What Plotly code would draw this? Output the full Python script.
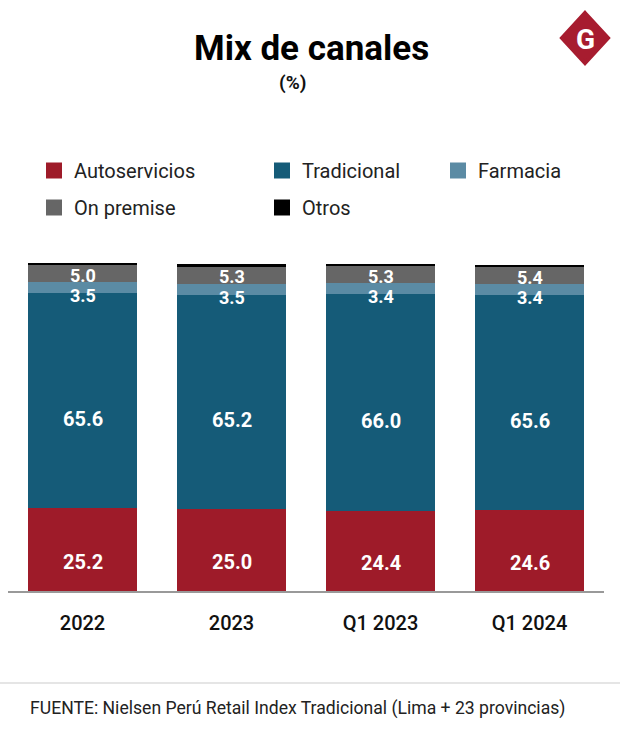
import plotly.graph_objects as go

categories = ["2022", "2023", "Q1 2023", "Q1 2024"]
series_names = ["Autoservicios", "Tradicional", "Farmacia", "On premise", "Otros"]
autoservicios = [25.2, 25.0, 24.4, 24.6]
tradicional = [65.6, 65.2, 66.0, 65.6]
farmacia = [3.5, 3.5, 3.4, 3.4]
on_premise = [5.0, 5.3, 5.3, 5.4]
otros = [0.8, 0.6, 0.4, 0.4]

colors = ["#9e1b29", "#155b78", "#5b8ba4", "#666666", "#000000"]
values = [autoservicios, tradicional, farmacia, on_premise, otros]
legend_of = ["legend", "legend2", "legend3", "legend", "legend2"]

W, H = 620, 740
L, R, T, B = 8, 16, 263, 149
PW = W - L - R
PH = H - T - B

def px(xp):
    return (xp - L) / PW

def py(yp):
    return (H - B - yp) / PH

FONT = "Roboto"

fig = go.Figure()
for name, vals, col in zip(series_names, values, colors):
    fig.add_trace(go.Bar(x=categories, y=vals, name=name, marker=dict(color=col, line=dict(width=0)),
                         showlegend=False, hoverinfo="skip"))

# legend entries
for i, (name, col, lg) in enumerate(zip(series_names, colors, legend_of)):
    fig.add_trace(go.Scatter(x=[None], y=[None], mode="markers", name=name,
                             marker=dict(symbol="square", size=16, color=col),
                             legend=lg, legendgroup=name, showlegend=True))

# value labels
shifts = [-12, -18, -8, -2]
label_sizes = [20, 20, 18, 18]
for c_i, cat in enumerate(categories):
    base = 0
    for s_i in range(4):
        v = values[s_i][c_i]
        mid = base + v / 2
        fig.add_annotation(x=c_i, y=mid, xref="x", yref="y", text=f"<b>{v:.1f}</b>",
                           showarrow=False, yshift=shifts[s_i], xanchor="center", yanchor="middle",
                           font=dict(family=FONT, size=label_sizes[s_i], color="white"))
        base += v

legend_common = dict(orientation="v", font=dict(family=FONT, size=20, color="#222222"),
                     bgcolor="rgba(0,0,0,0)", itemsizing="trace", traceorder="grouped",
                     tracegroupgap=8, yanchor="top", xanchor="left", itemclick=False)
fig.update_layout(
    legend=dict(x=px(34), y=py(151), **legend_common),
    legend2=dict(x=px(262), y=py(151), **legend_common),
    legend3=dict(x=px(438), y=py(151), **legend_common),
)

def label(text, x, y, size, color, anchor="center", family=FONT):
    fig.add_annotation(text=text, x=px(x), y=py(y), xref="paper", yref="paper", showarrow=False,
                       xanchor=anchor, yanchor="middle", font=dict(family=family, size=size, color=color))

# title
label("<b>Mix de canales</b>", 311, 48, 35, "#000000")
label("<b>(%)</b>", 292, 82, 19, "#111111")

# footer
fig.add_shape(type="line", xref="paper", yref="paper", x0=px(0), x1=px(620), y0=py(683), y1=py(683),
              line=dict(color="#dddddd", width=1.5))
label("FUENTE: Nielsen Perú Retail Index Tradicional (Lima + 23 provincias)", 28, 708, 17.6, "#222222",
      anchor="left")

# logo
cx, cy, hw, hh = 585, 38, 23, 25
path = (f"M {px(cx)} {py(cy-hh)} L {px(cx+hw)} {py(cy)} L {px(cx)} {py(cy+hh)} "
        f"L {px(cx-hw)} {py(cy)} Z")
fig.add_shape(type="path", path=path, xref="paper", yref="paper",
              fillcolor="#a71c2f", line=dict(color="#a71c2f", width=4))
label("<b>G</b>", cx, cy + 1, 28, "white")

fig.update_layout(
    width=W, height=H, margin=dict(l=L, r=R, t=T, b=B, autoexpand=False),
    barmode="stack", bargap=0.275,
    plot_bgcolor="white", paper_bgcolor="white",
    xaxis=dict(type="category", showgrid=False, showline=True, linecolor="#999999", linewidth=1.5,
               ticks="", tickfont=dict(family=FONT, size=20, color="#111111", weight=500),
               ticklabelstandoff=13, range=[-0.5, 3.5], fixedrange=True),
    yaxis=dict(visible=False, range=[0, 100], fixedrange=True),
    font=dict(family=FONT),
)

fig.write_html("out.html", config={"displayModeBar": False},
               post_script="document.body.style.margin='0';")
